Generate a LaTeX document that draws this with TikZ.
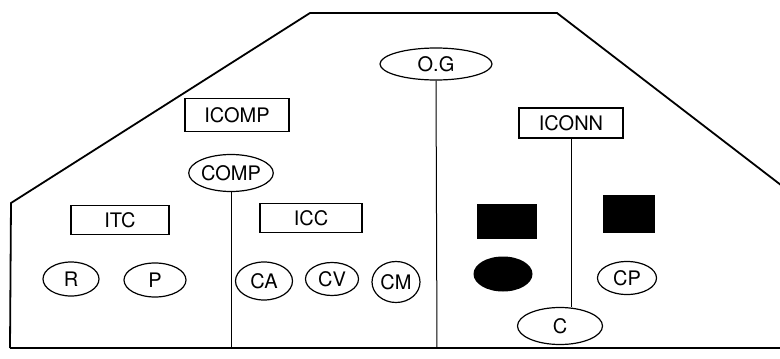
\documentclass[tikz,border=0pt]{standalone}
\usepackage{fontspec}
\setmainfont{TeX Gyre Heros}
\usetikzlibrary{shapes.geometric, positioning}

\begin{document}
\begin{tikzpicture}[
    x=1pt, y=-1pt,
    module/.style={rectangle, draw=black, line width=1.2pt, minimum width=102pt, minimum height=30pt, inner sep=0pt, font=\fontsize{20}{22}\selectfont},
    part/.style={ellipse, draw=black, line width=1.2pt, minimum width=56pt, minimum height=34pt, inner sep=0pt, font=\fontsize{20}{22}\selectfont},
    blank/.style={rectangle, fill=black, minimum width=58pt, minimum height=36pt, inner sep=0pt},
    link/.style={line width=1pt, -}
]
\useasboundingbox (0,0) rectangle (780,359);

% Outline
\draw [line width=1.8pt, line join=miter] (10,348) -- (11,203) -- (310,13) -- (557,13) -- (790,192);
\draw [line width=1.8pt] (10,348) -- (790,348);

% Nodes
\node (og) [part, minimum width=112pt, minimum height=32pt] at (436,64) {O.G};
\node (icomp) [module, minimum width=104pt, minimum height=33pt] at (237,115) {ICOMP};
\node (comp) [part, minimum width=75pt, minimum height=37pt] at (231,173) {COMP};
\node (iconn) [module, minimum width=104pt] at (571,123) {ICONN};
\node (itc) [module, minimum width=98pt, minimum height=29pt] at (120,220) {ITC};
\node (icc) [module, minimum height=29pt] at (311,218) {ICC};
\node (r) [part] at (71,279) {R};
\node (p) [part, minimum width=62pt] at (155,280) {P};
\node (ca) [part, minimum width=57pt, minimum height=38pt] at (264,281) {CA};
\node (cv) [part, minimum width=53pt, minimum height=33pt] at (332,279) {CV};
\node (cm) [part, minimum width=48pt, minimum height=41pt] at (396,282) {CM};
\node (sq1) [blank, minimum width=60pt, minimum height=35pt] at (507,221) {};
\node (sq2) [blank, minimum width=52pt, minimum height=38pt] at (629,214) {};
\node (dot) [ellipse, fill=black, minimum width=59pt, minimum height=35pt, inner sep=0pt] at (503,274) {};
\node (cp) [part, minimum width=59pt, minimum height=33pt] at (627,278) {CP};
\node (c) [part, minimum width=85pt, minimum height=37pt] at (560,326) {C};
\coordinate (comp end) at (231,348);
\coordinate (og end) at (437,348);

% Edges
\draw [link] (comp) -- (comp end);
\draw [link] (og.south) -- (og end);
\draw [link] (iconn) -- (iconn |- c.north);

\end{tikzpicture}
\end{document}
